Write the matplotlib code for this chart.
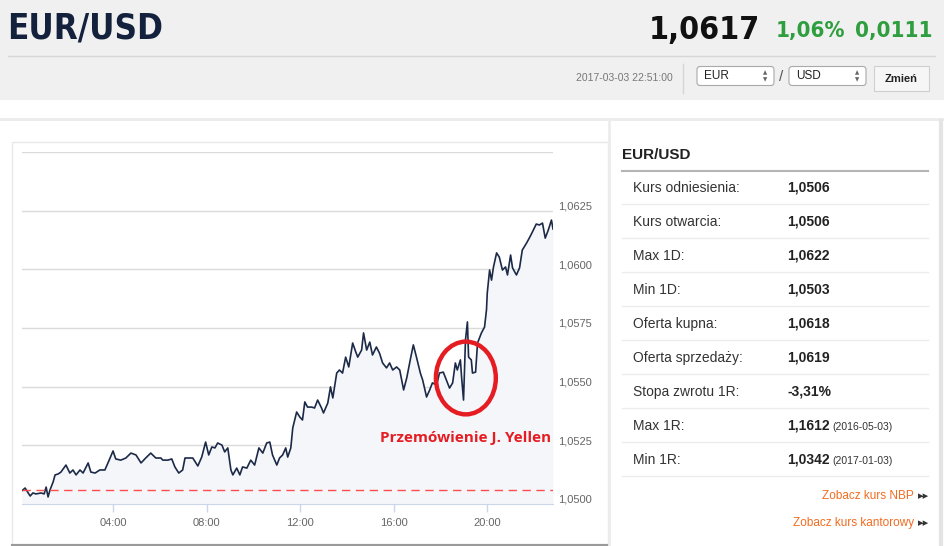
import numpy as np
import matplotlib.pyplot as plt
from matplotlib import font_manager
from matplotlib.patches import Rectangle, Ellipse, FancyBboxPatch
from matplotlib.transforms import ScaledTranslation

plt.rcParams['font.family'] = ['Liberation Sans', 'DejaVu Sans']

# intraday EUR/USD quotes, 2017-03-03 (minutes after midnight, price)
times = [5, 13, 26, 33, 41, 54, 62, 67, 72, 77, 85, 90, 98, 105, 118, 128, 136, 144, 154, 162,
         175, 182, 193, 205, 218, 226, 239, 246, 259, 272, 285, 298, 311, 323, 336, 349, 362,
         367, 380, 390, 398, 408, 418, 424, 436, 444, 452, 457, 467, 477, 485, 493, 501, 508,
         519, 526, 534, 542, 547, 557, 565, 572, 583, 593, 603, 614, 624, 634, 642, 649, 660,
         667, 675, 683, 688, 696, 701, 711, 719, 726, 732, 739, 750, 757, 765, 775, 780, 791,
         798, 804, 814, 821, 829, 837, 845, 855, 863, 868, 878, 883, 891, 899, 906, 916, 924,
         932, 942, 950, 958, 968, 976, 986, 994, 1004, 1011, 1019, 1029, 1035, 1045, 1053,
         1060, 1071, 1078, 1088, 1096, 1104, 1112, 1119, 1124, 1132, 1135, 1140, 1145, 1150,
         1153, 1160, 1163, 1171, 1176, 1186, 1194, 1199, 1201, 1207, 1212, 1217, 1225, 1232,
         1240, 1248, 1253, 1261, 1266, 1276, 1284, 1291, 1302, 1309, 1317, 1327, 1335, 1343,
         1350, 1358, 1366, 1370]
prices = [1.05057, 1.05068, 1.05034, 1.05047, 1.05043, 1.05047, 1.05043, 1.05072, 1.05030,
          1.05060, 1.05094, 1.05124, 1.05128, 1.05136, 1.05166, 1.05132, 1.05145, 1.05124,
          1.05145, 1.05132, 1.05175, 1.05136, 1.05132, 1.05145, 1.05145, 1.05175, 1.05226,
          1.05192, 1.05187, 1.05196, 1.05217, 1.05209, 1.05175, 1.05196, 1.05217, 1.05196,
          1.05196, 1.05187, 1.05187, 1.05192, 1.05158, 1.05132, 1.05145, 1.05196, 1.05196,
          1.05196, 1.05175, 1.05162, 1.05200, 1.05264, 1.05209, 1.05243, 1.05239, 1.05260,
          1.05251, 1.05222, 1.05239, 1.05145, 1.05124, 1.05153, 1.05124, 1.05158, 1.05153,
          1.05187, 1.05166, 1.05239, 1.05217, 1.05260, 1.05264, 1.05209, 1.05166, 1.05196,
          1.05209, 1.05239, 1.05200, 1.05239, 1.05324, 1.05392, 1.05371, 1.05358, 1.05435,
          1.05413, 1.05413, 1.05409, 1.05443, 1.05409, 1.05388, 1.05430, 1.05499, 1.05452,
          1.05558, 1.05571, 1.05558, 1.05626, 1.05584, 1.05686, 1.05648, 1.05626, 1.05656,
          1.05729, 1.05656, 1.05690, 1.05635, 1.05669, 1.05643, 1.05601, 1.05580, 1.05601,
          1.05571, 1.05584, 1.05571, 1.05486, 1.05537, 1.05622, 1.05678, 1.05626, 1.05558,
          1.05528, 1.05456, 1.05486, 1.05516, 1.05507, 1.05558, 1.05562, 1.05528, 1.05494,
          1.05516, 1.05601, 1.05571, 1.05614, 1.05541, 1.05443, 1.05699, 1.05776, 1.05626,
          1.05614, 1.05558, 1.05562, 1.05686, 1.05729, 1.05754, 1.05827, 1.05899, 1.05997,
          1.05954, 1.06010, 1.06070, 1.06052, 1.05997, 1.06010, 1.05976, 1.06061, 1.06006,
          1.05976, 1.06006, 1.06082, 1.06112, 1.06133, 1.06159, 1.06193, 1.06189, 1.06197,
          1.06133, 1.06168, 1.06210, 1.06172]

ref_rate = 1.0506
y_ticks = [1.0500, 1.0525, 1.0550, 1.0575, 1.0600, 1.0625, 1.0650]
y_labels = ['1,0500', '1,0525', '1,0550', '1,0575', '1,0600', '1,0625', '']
x_ticks = [240, 480, 720, 960, 1200]
x_labels = ['04:00', '08:00', '12:00', '16:00', '20:00']

pair = 'EUR/USD'
last_price = '1,0617'
change_pct = '1,06%'
change_abs = '0,0111'
stamp = '2017-03-03 22:51:00'
base_cur = 'EUR'
quote_cur = 'USD'
button = 'Zmień'
note = 'Przemówienie J. Yellen'
note_time = 1140
note_price = 1.05537

row_labels = ['Kurs odniesienia:', 'Kurs otwarcia:', 'Max 1D:', 'Min 1D:', 'Oferta kupna:',
              'Oferta sprzedaży:', 'Stopa zwrotu 1R:', 'Max 1R:', 'Min 1R:']
row_values = ['1,0506', '1,0506', '1,0622', '1,0503', '1,0618', '1,0619', '-3,31%',
              '1,1612', '1,0342']
row_dates = ['', '', '', '', '', '', '', '(2016-05-03)', '(2017-01-03)']
links = ['Zobacz kurs NBP', 'Zobacz kurs kantorowy']

# look for a narrow face for the big header numbers
narrow = None
for f in font_manager.fontManager.ttflist:
    if f.name in ('Liberation Sans Narrow', 'Roboto Condensed', 'Open Sans Condensed',
                  'DejaVu Sans Condensed') or 'condensed' in str(f.stretch):
        narrow = dict(family=[f.name, 'DejaVu Sans'], stretch=f.stretch)
        break
if narrow:
    head = dict(narrow, fontsize=25, weight='bold')
    big = dict(narrow, fontsize=23, weight='bold')
    mid = dict(narrow, fontsize=16, weight='bold')
else:
    head = dict(family=['Roboto', 'DejaVu Sans'], fontsize=25, weight='medium')
    big = dict(family=['Roboto', 'DejaVu Sans'], fontsize=25, weight='bold')
    mid = dict(family=['Roboto', 'DejaVu Sans'], fontsize=18)

W, H = 945, 546
fig = plt.figure(figsize=(W / 100, H / 100), dpi=100)

# page layer in pixel coordinates
bg = fig.add_axes([0, 0, 1, 1])
bg.set_xlim(0, W)
bg.set_ylim(H, 0)
bg.axis('off')

# header
bg.add_patch(Rectangle((0, 0), W, 100, color='#f0f0f0', lw=0))
bg.plot([8, 935], [56, 56], color='#d6d6d6', lw=1)
bg.text(7, 29, pair, color='#14213d', va='center', **head)
bg.text(932, 31, change_abs, color='#2e9e3e', va='center', ha='right', **mid)
bg.text(845, 31, change_pct, color='#2e9e3e', va='center', ha='right', **mid)
bg.text(760, 30, last_price, color='#111111', va='center', ha='right', **big)
bg.text(673, 78, stamp, fontsize=7.5, color='#777777', va='center', ha='right')
bg.plot([683, 683], [64, 93], color='#d6d6d6', lw=1)

for x0, cur in [(697, base_cur), (789, quote_cur)]:
    bg.add_patch(FancyBboxPatch((x0, 66.5), 77, 19, boxstyle='round,pad=0,rounding_size=3',
                                fc='white', ec='#a9a9a9', lw=0.8))
    bg.text(x0 + 7, 76, cur, fontsize=8.5, color='#222222', va='center')
    bg.text(x0 + 68, 73, '▲', fontsize=4, color='#666666', va='center', ha='center',
            family='DejaVu Sans')
    bg.text(x0 + 68, 79.5, '▼', fontsize=4, color='#666666', va='center', ha='center',
            family='DejaVu Sans')
bg.text(781, 77, '/', fontsize=11, color='#555555', va='center', ha='center')
bg.add_patch(Rectangle((874, 66), 55, 25, fc='#f6f6f6', ec='#cfcfcf', lw=0.8))
bg.text(901.5, 79, button, fontsize=8, color='#222222', va='center', ha='center', weight='bold')

# panel frames
bg.add_patch(Rectangle((0, 118), W, 3, color='#ececec', lw=0))
bg.add_patch(Rectangle((12, 142), 596, 402, fc='white', ec='#e8e8e8', lw=1))
bg.plot([12, 608], [544.5, 544.5], color='#9a9a9a', lw=1.5)
bg.plot([609, 609], [121, H], color='#ececec', lw=2)
bg.plot([941, 941], [121, H], color='#e4e4e4', lw=3)

# right info table
bg.text(622, 155, pair, fontsize=11, color='#222222', va='center', weight='bold')
bg.plot([622, 928], [170.5, 170.5], color='#b4b4b4', lw=1.5)
for i, (lab, val, dt) in enumerate(zip(row_labels, row_values, row_dates)):
    yc = 188 + 34 * i
    bg.text(633, yc, lab, fontsize=10, color='#333333', va='center')
    bg.text(787, yc, val, fontsize=10, color='#222222', va='center', weight='bold')
    if dt:
        bg.text(832, yc + 1, dt, fontsize=7.5, color='#333333', va='center')
    bg.plot([622, 928], [204 + 34 * i, 204 + 34 * i], color='#ececec', lw=1)
for i, link in enumerate(links):
    yc = 496 + 27 * i
    bg.text(914, yc, link, fontsize=8.5, color='#f26c21', va='center', ha='right')
    bg.text(929, yc, '▸▸', fontsize=8, color='#333333', va='center', ha='right',
            family='DejaVu Sans')

# chart
ax = fig.add_axes([22 / W, (H - 504) / H, (553 - 22) / W, (504 - 152) / H])
ax.patch.set_alpha(0)
ax.fill_between(times, prices, y_ticks[0], color='#f4f6f9', lw=0)
ax.plot(times, prices, color='#1c2a48', lw=1.2, solid_joinstyle='round')
ax.axhline(ref_rate, color='#ff4d4d', lw=1, ls=(0, (6, 4)))
ax.set_xlim(5, 1370)
ax.set_ylim(y_ticks[0], y_ticks[-1])

ax.set_yticks(y_ticks)
ax.set_yticklabels(y_labels)
ax.yaxis.tick_right()
ax.tick_params(axis='y', length=0, pad=4, labelsize=8, labelcolor='#666666')
ax.yaxis.grid(True, color='#dadada', lw=1)
ax.set_axisbelow(True)
for lbl in ax.get_yticklabels():
    lbl.set_transform(lbl.get_transform() + ScaledTranslation(0, 5 / 100, fig.dpi_scale_trans))

ax.set_xticks(x_ticks)
ax.set_xticklabels(x_labels)
ax.tick_params(axis='x', length=6, width=1, color='#ccd6eb', labelsize=8,
               labelcolor='#666666', pad=4)
for side in ['top', 'left', 'right']:
    ax.spines[side].set_visible(False)
ax.spines['bottom'].set_color('#ccd6eb')

ax.add_patch(Ellipse((note_time + 6, note_price), 154, 0.0031, fill=False, ec='#e51d23',
                     lw=3.2, clip_on=False, zorder=5))
ax.text(1366, 1.05281, note, fontsize=11, color='#e51d23', weight='bold', ha='right',
        va='center', family=['Open Sans', 'DejaVu Sans'])

fig.savefig('out.png', dpi=100)
